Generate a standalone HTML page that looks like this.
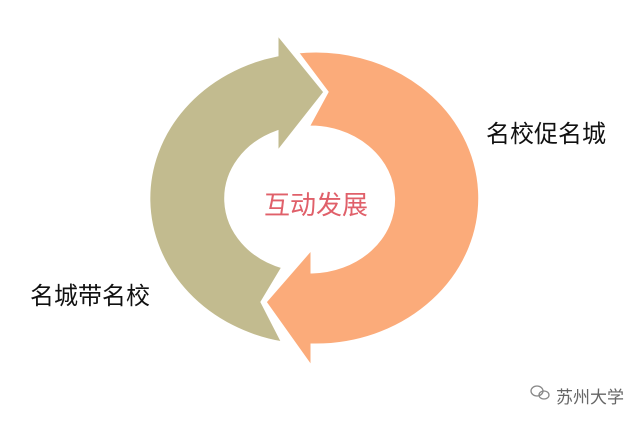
<!DOCTYPE html>
<html><head><meta charset="utf-8"><style>
html,body{margin:0;padding:0;background:#fff;}
body{width:640px;height:421px;position:relative;overflow:hidden;font-family:"Liberation Sans","Noto Sans CJK SC",sans-serif;}
.t{position:absolute;white-space:nowrap;}
</style></head><body>
<svg width="640" height="421" style="position:absolute;left:0;top:0">
<path d="M277,33 L325,92 L277,153 L277,132 A83 72 0 0 0 283,267 L262,302 L283,343 A164 147 0 0 1 277,55 Z" fill="#c2bb8f" stroke="#fff" stroke-width="3" stroke-linejoin="miter"/>
<path d="M297,52 L327,92 L308,127 A83 72 0 1 1 312,272 L312,248 L265,302 L312,368 L312,345 A164 147 0 1 0 297,52 Z" fill="#fbab7a" stroke="#fff" stroke-width="3" stroke-linejoin="miter"/>
<g transform="translate(540,393)" fill="none" stroke="#888" stroke-width="1.3">
<ellipse cx="-3" cy="-2" rx="6" ry="5"/><ellipse cx="4" cy="2" rx="5" ry="4"/>
</g>
</svg>
<div class="t" style="left:486px;top:114px;font-size:24px;color:#111;">名校促名城</div>
<div class="t" style="left:30px;top:276px;font-size:24px;color:#111;">名城带名校</div>
<div class="t" style="left:264px;top:185px;font-size:26px;color:#e0606a;">互动发展</div>
<div class="t" style="left:556px;top:383px;font-size:17px;color:#666;">苏州大学</div>
</body></html>
